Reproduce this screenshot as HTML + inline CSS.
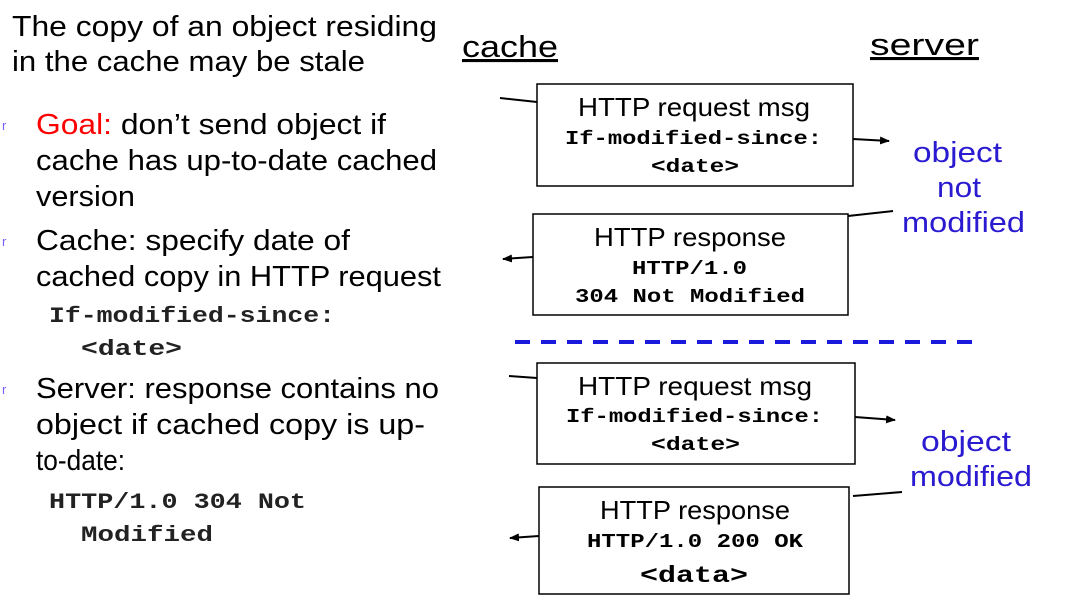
<!DOCTYPE html>
<html><head><meta charset="utf-8"><style>
body{margin:0;width:1065px;height:610px;background:#fff;overflow:hidden}
svg text{font-family:"Liberation Sans",sans-serif}
.m{font-family:"Liberation Mono",monospace;font-weight:bold}
</style></head><body>
<svg width="1065" height="610" xmlns="http://www.w3.org/2000/svg">
<defs><marker id="a" markerWidth="10" markerHeight="8" refX="9" refY="4" orient="auto" markerUnits="userSpaceOnUse"><path d="M0,0 L10,4 L0,8 z" fill="#000"/></marker></defs>
<g font-size="29" fill="#000" lengthAdjust="spacingAndGlyphs">
<text x="12" y="36" textLength="425" lengthAdjust="spacingAndGlyphs">The copy of an object residing</text>
<text x="12" y="71" textLength="353" lengthAdjust="spacingAndGlyphs">in the cache may be stale</text>
<text x="36" y="134" textLength="350" lengthAdjust="spacingAndGlyphs"><tspan fill="#f00">Goal:</tspan> don’t send object if</text>
<text x="36" y="170" textLength="401" lengthAdjust="spacingAndGlyphs">cache has up-to-date cached</text>
<text x="36" y="206" textLength="99" lengthAdjust="spacingAndGlyphs">version</text>
<text x="36" y="250" textLength="314" lengthAdjust="spacingAndGlyphs">Cache: specify date of</text>
<text x="36" y="286" textLength="405" lengthAdjust="spacingAndGlyphs">cached copy in HTTP request</text>
<text x="36" y="398" textLength="403" lengthAdjust="spacingAndGlyphs">Server: response contains no</text>
<text x="36" y="434" textLength="389" lengthAdjust="spacingAndGlyphs">object if cached copy is up-</text>
<text x="36" y="470" textLength="89" lengthAdjust="spacingAndGlyphs">to-date:</text>
</g>
<g font-size="13" fill="#7a5cff"><text x="2" y="130">r</text><text x="2" y="246">r</text><text x="2" y="394">r</text></g>
<g font-size="22" fill="#222">
<text class="m" x="49" y="322" textLength="286" lengthAdjust="spacingAndGlyphs">If-modified-since:</text>
<text class="m" x="81" y="355" textLength="101" lengthAdjust="spacingAndGlyphs">&lt;date&gt;</text>
<text class="m" x="49" y="508" textLength="257" lengthAdjust="spacingAndGlyphs">HTTP/1.0 304 Not</text>
<text class="m" x="81" y="541" textLength="132" lengthAdjust="spacingAndGlyphs">Modified</text>
</g>
<g font-size="31" fill="#000">
<text x="462" y="57" textLength="96" lengthAdjust="spacingAndGlyphs" text-decoration="underline">cache</text>
<text x="870" y="55" textLength="109" lengthAdjust="spacingAndGlyphs" text-decoration="underline">server</text>
</g>
<g fill="none" stroke="#000" stroke-width="1.5">
<rect x="537" y="84" width="316" height="102"/>
<rect x="533" y="214" width="315" height="101"/>
<rect x="537" y="363" width="318" height="101"/>
<rect x="539" y="487" width="310" height="107"/>
</g>
<g stroke="#000" stroke-width="2">
<line x1="500" y1="98" x2="537" y2="102"/>
<line x1="853" y1="139" x2="889" y2="141" marker-end="url(#a)"/>
<line x1="893" y1="211" x2="848" y2="216"/>
<line x1="533" y1="257" x2="503" y2="259" marker-end="url(#a)"/>
<line x1="509" y1="376" x2="537" y2="378"/>
<line x1="855" y1="417" x2="895" y2="420" marker-end="url(#a)"/>
<line x1="902" y1="492" x2="853" y2="496"/>
<line x1="539" y1="536" x2="510" y2="538" marker-end="url(#a)"/>
</g>
<line x1="515" y1="342" x2="978" y2="342" stroke="#1a1add" stroke-width="4" stroke-dasharray="15,11"/>
<g>
<text x="578" y="116" font-size="26" textLength="232" lengthAdjust="spacingAndGlyphs">HTTP request msg</text>
<text x="565" y="144" font-size="19" class="m" textLength="257" lengthAdjust="spacingAndGlyphs">If-modified-since:</text>
<text x="651" y="172" font-size="19" class="m" textLength="88" lengthAdjust="spacingAndGlyphs">&lt;date&gt;</text>
<text x="594" y="246" font-size="26" textLength="192" lengthAdjust="spacingAndGlyphs">HTTP response</text>
<text x="632" y="274" font-size="19" class="m" textLength="115" lengthAdjust="spacingAndGlyphs">HTTP/1.0</text>
<text x="575" y="302" font-size="19" class="m" textLength="230" lengthAdjust="spacingAndGlyphs">304 Not Modified</text>
<text x="578" y="395" font-size="26" textLength="234" lengthAdjust="spacingAndGlyphs">HTTP request msg</text>
<text x="566" y="422" font-size="19" class="m" textLength="257" lengthAdjust="spacingAndGlyphs">If-modified-since:</text>
<text x="651" y="450" font-size="19" class="m" textLength="89" lengthAdjust="spacingAndGlyphs">&lt;date&gt;</text>
<text x="600" y="519" font-size="26" textLength="190" lengthAdjust="spacingAndGlyphs">HTTP response</text>
<text x="587" y="547" font-size="19" class="m" textLength="216" lengthAdjust="spacingAndGlyphs">HTTP/1.0 200 OK</text>
<text x="640" y="582" font-size="23" class="m" textLength="108" lengthAdjust="spacingAndGlyphs">&lt;data&gt;</text>
<g font-size="29" fill="#2a1ad0">
<text x="913" y="162" textLength="89" lengthAdjust="spacingAndGlyphs">object</text>
<text x="937" y="197" textLength="44" lengthAdjust="spacingAndGlyphs">not</text>
<text x="902" y="232" textLength="123" lengthAdjust="spacingAndGlyphs">modified</text>
<text x="921" y="451" textLength="90" lengthAdjust="spacingAndGlyphs">object</text>
<text x="910" y="486" textLength="122" lengthAdjust="spacingAndGlyphs">modified</text>
</g>
</g>
</svg>
</body></html>
